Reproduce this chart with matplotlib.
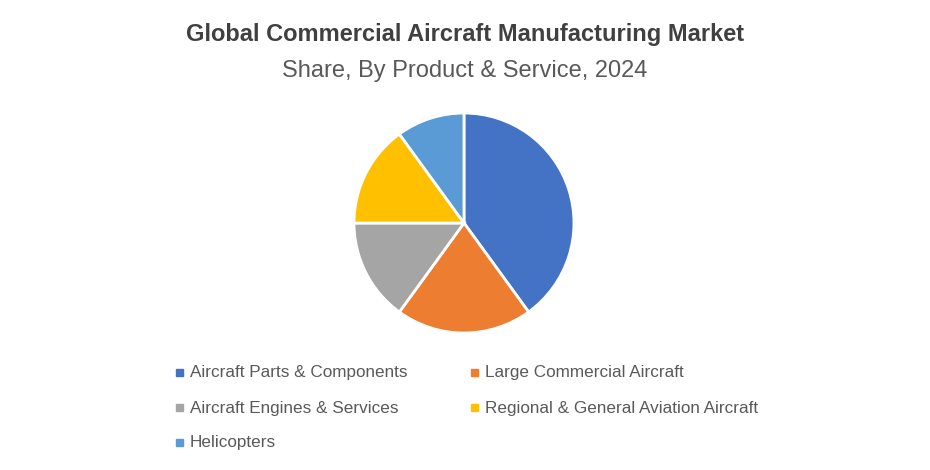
import matplotlib.pyplot as plt
from matplotlib.patches import Rectangle

plt.rcParams["font.family"] = "Liberation Sans"

# Market share by product & service, 2024 (%)
segments = ["Aircraft Parts & Components", "Large Commercial Aircraft",
            "Aircraft Engines & Services", "Regional & General Aviation Aircraft",
            "Helicopters"]
shares = [40, 20, 15, 15, 10]
colors = ["#4472C4", "#ED7D31", "#A5A5A5", "#FFC000", "#5B9BD5"]

fig = plt.figure(figsize=(9.3, 4.7), dpi=100)
fig.text(0.5, 1 - 35 / 470, "Global Commercial Aircraft Manufacturing Market",
         ha="center", va="center", fontsize=17, fontweight="bold", color="#404040")
fig.text(0.5, 1 - 71 / 470, "Share, By Product & Service, 2024",
         ha="center", va="center", fontsize=17, color="#595959")

ax = fig.add_axes([0.3806, 0.2915, 0.2366, 0.468])
ax.pie(shares, colors=colors, startangle=90, counterclock=False,
       wedgeprops=dict(edgecolor="white", linewidth=2))
ax.set_xlim(-1, 1)
ax.set_ylim(-1, 1)
ax.set_aspect("equal")

col_x = [180, 475]
row_y = [373, 408, 443]
for i, (lab, c) in enumerate(zip(segments, colors)):
    x = col_x[i % 2]
    y = row_y[i // 2]
    fig.add_artist(Rectangle(((x - 4) / 930, 1 - (y + 3) / 470), 7 / 930, 7 / 470,
                             transform=fig.transFigure, color=c))
    fig.text((x + 10) / 930, 1 - y / 470, lab, ha="left", va="center",
             fontsize=12.3, color="#595959")

fig.savefig("out.png", dpi=100)
